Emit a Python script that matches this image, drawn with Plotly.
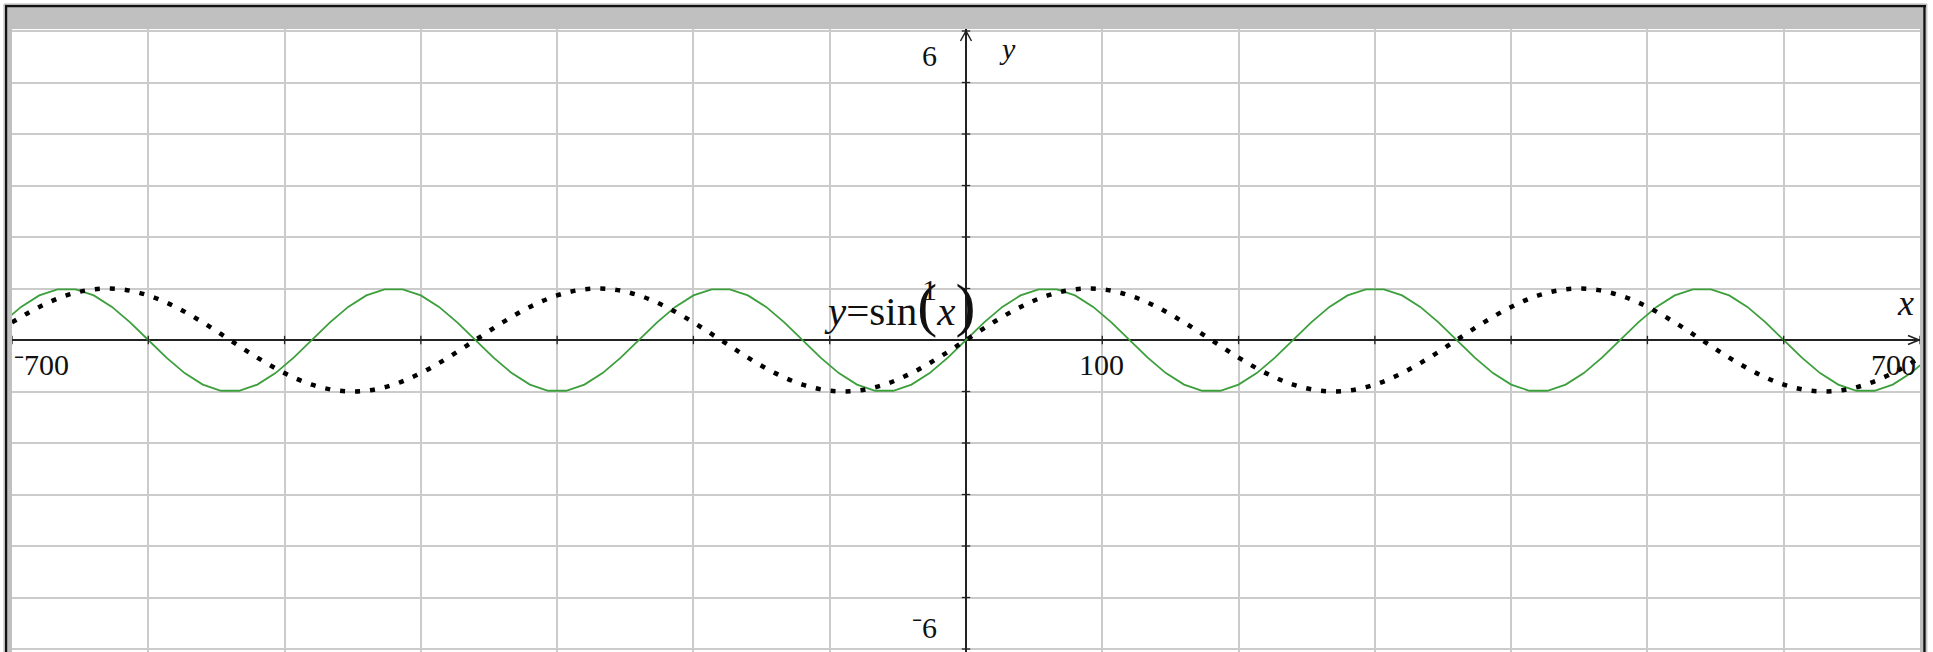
import plotly.graph_objects as go

# ---------------- data ----------------
green_x = [
    -706.67, -693.33, -680.0, -666.67, -653.33, -640.0, -626.67, -613.33, -600.0,
    -586.67, -573.33, -560.0, -546.67, -533.33, -520.0, -506.67, -493.33, -480.0,
    -466.67, -453.33, -440.0, -426.67, -413.33, -400.0, -386.67, -373.33, -360.0,
    -346.67, -333.33, -320.0, -306.67, -293.33, -280.0, -266.67, -253.33, -240.0,
    -226.67, -213.33, -200.0, -186.67, -173.33, -160.0, -146.67, -133.33, -120.0,
    -106.67, -93.33, -80.0, -66.67, -53.33, -40.0, -26.67, -13.33, 0.0,
    13.33, 26.67, 40.0, 53.33, 66.67, 80.0, 93.33, 106.67, 120.0,
    133.33, 146.67, 160.0, 173.33, 186.67, 200.0, 213.33, 226.67, 240.0,
    253.33, 266.67, 280.0, 293.33, 306.67, 320.0, 333.33, 346.67, 360.0,
    373.33, 386.67, 400.0, 413.33, 426.67, 440.0, 453.33, 466.67, 480.0,
    493.33, 506.67, 520.0, 533.33, 546.67, 560.0, 573.33, 586.67, 600.0,
    613.33, 626.67, 640.0, 653.33, 666.67, 680.0, 693.33, 706.67,
]
green_y = [
    0.342, 0.643, 0.866, 0.985, 0.985, 0.866, 0.643, 0.342, 0.0,
    -0.342, -0.643, -0.866, -0.985, -0.985, -0.866, -0.643, -0.342, 0.0,
    0.342, 0.643, 0.866, 0.985, 0.985, 0.866, 0.643, 0.342, 0.0,
    -0.342, -0.643, -0.866, -0.985, -0.985, -0.866, -0.643, -0.342, 0.0,
    0.342, 0.643, 0.866, 0.985, 0.985, 0.866, 0.643, 0.342, 0.0,
    -0.342, -0.643, -0.866, -0.985, -0.985, -0.866, -0.643, -0.342, 0.0,
    0.342, 0.643, 0.866, 0.985, 0.985, 0.866, 0.643, 0.342, 0.0,
    -0.342, -0.643, -0.866, -0.985, -0.985, -0.866, -0.643, -0.342, 0.0,
    0.342, 0.643, 0.866, 0.985, 0.985, 0.866, 0.643, 0.342, 0.0,
    -0.342, -0.643, -0.866, -0.985, -0.985, -0.866, -0.643, -0.342, 0.0,
    0.342, 0.643, 0.866, 0.985, 0.985, 0.866, 0.643, 0.342, 0.0,
    -0.342, -0.643, -0.866, -0.985, -0.985, -0.866, -0.643, -0.342,
]

black_x = [
    -700, -680, -660, -640, -620, -600, -580, -560, -540,
    -520, -500, -480, -460, -440, -420, -400, -380, -360,
    -340, -320, -300, -280, -260, -240, -220, -200, -180,
    -160, -140, -120, -100, -80, -60, -40, -20, 0,
    20, 40, 60, 80, 100, 120, 140, 160, 180,
    200, 220, 240, 260, 280, 300, 320, 340, 360,
    380, 400, 420, 440, 460, 480, 500, 520, 540,
    560, 580, 600, 620, 640, 660, 680, 700,
]
black_y = [
    0.342, 0.643, 0.866, 0.985, 0.985, 0.866, 0.643, 0.342, 0.0,
    -0.342, -0.643, -0.866, -0.985, -0.985, -0.866, -0.643, -0.342, 0.0,
    0.342, 0.643, 0.866, 0.985, 0.985, 0.866, 0.643, 0.342, 0.0,
    -0.342, -0.643, -0.866, -0.985, -0.985, -0.866, -0.643, -0.342, 0.0,
    0.342, 0.643, 0.866, 0.985, 0.985, 0.866, 0.643, 0.342, 0.0,
    -0.342, -0.643, -0.866, -0.985, -0.985, -0.866, -0.643, -0.342, 0.0,
    0.342, 0.643, 0.866, 0.985, 0.985, 0.866, 0.643, 0.342, 0.0,
    -0.342, -0.643, -0.866, -0.985, -0.985, -0.866, -0.643, -0.342,
]

x_tick_vals = [-700, -600, -500, -400, -300, -200, -100, 100, 200, 300, 400, 500, 600, 700]
y_tick_vals = [-6, -5, -4, -3, -2, -1, 1, 2, 3, 4, 5, 6]
x_range = [-700, 700]
y_range = [-6.058, 6.039]

graph_label = "<i>y</i>=sin<span style='font-size:60px'>(</span><i>x</i><span style='font-size:60px'>)</span>"

# ---------------- layout geometry ----------------
W, H = 1933, 652
L, R, T, B = 12, 13, 29, 0
PW, PH = W - L - R, H - T - B


def fx(px):
    return (px - L) / PW


def fy(py):
    return (H - B - py) / PH


AX = "#222222"
GRID = "#cbcbcb"
FONT = "Liberation Serif"

fig = go.Figure()

fig.add_trace(go.Scatter(
    x=green_x, y=green_y, mode="lines",
    line=dict(color="#3c9f3c", width=1.8),
    hoverinfo="skip", showlegend=False,
))
fig.add_trace(go.Scatter(
    x=black_x, y=black_y, mode="lines",
    line=dict(color="black", width=4.5, dash="5px,10px", shape="spline"),
    hoverinfo="skip", showlegend=False,
))
# axis tick marks
fig.add_trace(go.Scatter(
    x=x_tick_vals, y=[0] * len(x_tick_vals), mode="markers",
    marker=dict(symbol="line-ns", size=6, line=dict(color=AX, width=1.3)),
    hoverinfo="skip", showlegend=False, cliponaxis=False,
))
fig.add_trace(go.Scatter(
    x=[0] * len(y_tick_vals), y=y_tick_vals, mode="markers",
    marker=dict(symbol="line-ew", size=6, line=dict(color=AX, width=1.3)),
    hoverinfo="skip", showlegend=False, cliponaxis=False,
))

shapes = []
# arrow heads on axes
shapes.append(dict(type="path", xref="x", yref="y", xsizemode="pixel", ysizemode="pixel",
                   xanchor=x_range[1], yanchor=0, path="M-12,4.5 L-1,0 L-12,-4.5",
                   line=dict(color=AX, width=1.5)))
shapes.append(dict(type="path", xref="x", yref="y", xsizemode="pixel", ysizemode="pixel",
                   xanchor=0, yanchor=y_tick_vals[-1], path="M-5.5,-10 L0,0 L5.5,-10",
                   line=dict(color=AX, width=1.5)))
# window frame: grey title band and side strips
g = "#c0c0c0"
shapes += [
    dict(type="rect", xref="paper", yref="paper", x0=fx(6), x1=fx(1925), y0=fy(29), y1=fy(6),
         fillcolor=g, line=dict(width=0), layer="above"),
    dict(type="rect", xref="paper", yref="paper", x0=fx(6), x1=fx(12), y0=fy(660), y1=fy(29),
         fillcolor=g, line=dict(width=0), layer="above"),
    dict(type="rect", xref="paper", yref="paper", x0=fx(1920), x1=fx(1925), y0=fy(660), y1=fy(29),
         fillcolor=g, line=dict(width=0), layer="above"),
    # black frame lines
    dict(type="line", xref="paper", yref="paper", x0=fx(6), x1=fx(6), y0=fy(660), y1=fy(5),
         line=dict(color="#111111", width=2.4), layer="above"),
    dict(type="line", xref="paper", yref="paper", x0=fx(5), x1=fx(1926), y0=fy(6), y1=fy(6),
         line=dict(color="#111111", width=2.4), layer="above"),
    dict(type="line", xref="paper", yref="paper", x0=fx(1924.5), x1=fx(1924.5), y0=fy(660), y1=fy(5),
         line=dict(color="#111111", width=2.4), layer="above"),
    # faint outer line
    dict(type="line", xref="paper", yref="paper", x0=fx(4), x1=fx(4), y0=fy(660), y1=fy(4),
         line=dict(color="#b0b0b0", width=1), layer="above"),
    dict(type="line", xref="paper", yref="paper", x0=fx(4), x1=fx(1927), y0=fy(4), y1=fy(4),
         line=dict(color="#b0b0b0", width=1), layer="above"),
    dict(type="line", xref="paper", yref="paper", x0=fx(1926.8), x1=fx(1926.8), y0=fy(660), y1=fy(4),
         line=dict(color="#b0b0b0", width=1), layer="above"),
]


def ann(text, x, y, xanchor, xshift, yshift, size=30):
    return dict(text=text, x=x, y=y, xref="x", yref="y", showarrow=False,
                xanchor=xanchor, yanchor="middle", xshift=xshift, yshift=yshift,
                font=dict(family=FONT, size=size, color="#111111"))


annotations = [
    ann(str(y_tick_vals[-1]), 0, y_tick_vals[-1], "right", -27, -24),
    ann("1", 0, 1, "right", -27, -1),
    ann("\u207b" + str(abs(y_tick_vals[0])), 0, y_tick_vals[0], "right", -27, 22),
    ann("\u207b" + str(abs(x_tick_vals[0])), x_tick_vals[0], 0, "left", 0, -24),
    ann("100", 100, 0, "center", -1, -24),
    ann(str(x_tick_vals[-1]), x_tick_vals[-1], 0, "right", -2, -24),
    ann("<i>y</i>", 0, y_tick_vals[-1], "left", 31, -17),
    ann("<i>x</i>", x_range[1], 0, "center", -15, 37, size=36),
    ann(graph_label, 0, 0, "left", -144, 35, size=41),
]

fig.update_layout(
    width=W, height=H,
    margin=dict(l=L, r=R, t=T, b=B, pad=0),
    paper_bgcolor="white", plot_bgcolor="white",
    showlegend=False,
    shapes=shapes, annotations=annotations,
    xaxis=dict(range=x_range, tick0=0, dtick=100, showgrid=True, gridcolor=GRID, gridwidth=1.5,
               zeroline=True, zerolinecolor=AX, zerolinewidth=1.8, showticklabels=False,
               ticks="", showline=False, fixedrange=True),
    yaxis=dict(range=y_range, tick0=0, dtick=1, showgrid=True, gridcolor=GRID, gridwidth=1.5,
               zeroline=True, zerolinecolor=AX, zerolinewidth=1.8, showticklabels=False,
               ticks="", showline=False, fixedrange=True),
)

fig.write_html(
    "out.html",
    config={"displayModeBar": False},
    post_script="document.body.style.margin='0px';document.body.style.overflow='hidden';",
)
